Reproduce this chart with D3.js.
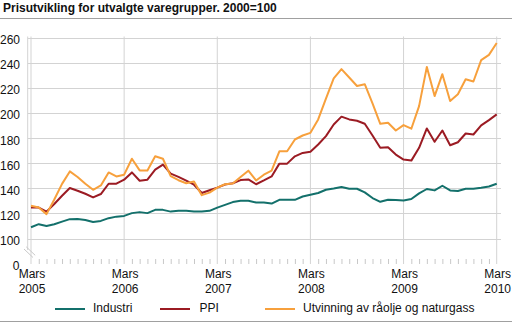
<!DOCTYPE html>
<html><head><meta charset="utf-8">
<script src="https://cdn.jsdelivr.net/npm/d3@7"></script>
<style>
body{margin:0;background:#fff;}
svg{display:block;font-family:"Liberation Sans",Arial,sans-serif;}
</style></head>
<body><svg id="c" width="512" height="323"></svg>
<script>
const title = "Prisutvikling for utvalgte varegrupper. 2000=100";
const yearLabels = ["2005","2006","2007","2008","2009","2010"];
const monthLabel = "Mars";
const yTicks = [100,120,140,160,180,200,220,240,260];
const seriesNames = ["Industri","PPI","Utvinning av råolje og naturgass"];
const industri = [109,111.4,110,111.4,113.4,115.4,115.6,114.8,113.2,114,116.2,117.4,118,120.2,121,120.2,122.8,122.8,121.4,122,122,121.4,121.4,122,124.6,126.8,129,130,130,128.6,128.6,127.8,130.8,130.8,130.8,133.4,134.8,136.2,138.8,139.8,141,139.6,139.6,136.7,132.2,129.2,130.8,130.6,130.3,131.4,135.9,139.4,138.3,142,138.3,137.8,139.6,139.6,140.4,141.4,143.6];
const ppi = [124.6,124.6,121.4,127.5,134,140.2,138,135.6,132.7,135.4,143.6,143.6,146.8,152.6,146,146.8,154.8,158.8,151.6,149,146,142.8,136.2,138.4,140.5,143,144,146.5,147,143.2,146.2,149.4,159.6,159.6,165.4,168.1,169,174.8,181.5,190.8,197,194.8,193.7,191.3,182,172.2,172.6,166.8,162.8,162,172.2,187.6,177,186,174.2,176.6,183.6,182.8,190,194.2,198.8];
const utvinning = [126,124.6,119.4,131,143.5,153.4,149,143.6,138.8,142.2,152.6,149.4,150.8,163.5,154.2,154.2,165.5,163.5,149.6,146.4,144,145.4,134.5,136.5,140.5,143.2,143.8,149,154,146.2,150.8,154,169.4,169.4,178.8,182,184.1,194.8,211.4,227.4,234.8,228.2,221.4,222.8,207.6,191.3,192.2,186,190.3,187.4,205.4,236.6,213.4,230.8,209.4,214.8,226.8,225,242,246.2,255.6];
const colors = ["#13706b","#9b1b23","#f7a03c"];

const svg = d3.select("#c");
const nMonths = industri.length;
const x = d3.scaleLinear().domain([0, nMonths-1]).range([31, 496.7]);
const y = d3.scaleLinear().domain([100, 260]).range([238.5, 37.5]);
const axisX = 27.7, bottomY = 264, gridRight = 501;

// title
svg.append("text").attr("x",3).attr("y",12).attr("font-size",12).attr("font-weight","bold").attr("fill","#111").text(title);
svg.append("line").attr("x1",0).attr("x2",512).attr("y1",18.5).attr("y2",18.5).attr("stroke","#a0a0a0").attr("stroke-width",1);
svg.append("line").attr("x1",0).attr("x2",512).attr("y1",321.5).attr("y2",321.5).attr("stroke","#a0a0a0").attr("stroke-width",1);

// horizontal grid
svg.append("g").selectAll("line").data(yTicks).join("line")
  .attr("x1",axisX).attr("x2",gridRight).attr("y1",d=>Math.round(y(d))+0.5).attr("y2",d=>Math.round(y(d))+0.5)
  .attr("stroke","#d3d3d3").attr("stroke-width",1);
// vertical year grid
const yearIdx = yearLabels.map((d,i)=>i*12);
svg.append("g").selectAll("line").data(yearIdx).join("line")
  .attr("x1",d=>x(d)).attr("x2",d=>x(d)).attr("y1",y(260)-1).attr("y2",bottomY)
  .attr("stroke","#d3d3d3").attr("stroke-width",1);
// y axis line
svg.append("line").attr("x1",axisX).attr("x2",axisX).attr("y1",y(260)-1).attr("y2",250).attr("stroke","#d3d3d3").attr("stroke-width",1);
// break marks
[0,2.2].forEach(o=>{
  svg.append("line").attr("x1",24+o).attr("y1",249-o).attr("x2",33+o).attr("y2",257.5-o).attr("stroke","#c8c8c8").attr("stroke-width",1);
});

// x axis month ticks via d3 axis
const xAxis = d3.axisBottom(x).tickValues(d3.range(nMonths).filter(i=>i%12!==0)).tickSize(5).tickFormat("");
const gx = svg.append("g").attr("transform",`translate(0,${bottomY-5})`).call(xAxis);
gx.select(".domain").remove();
gx.selectAll(".tick line").attr("stroke","#c8c8c8");

// y labels
const yAxis = d3.axisLeft(y).tickValues(yTicks).tickSize(0).tickPadding(0);
const gy = svg.append("g").attr("transform",`translate(20,0)`).call(yAxis);
gy.select(".domain").remove();
gy.selectAll(".tick text").attr("font-size",12).attr("font-family","Liberation Sans, Arial, sans-serif").attr("fill","#111").attr("dy","0.5em");
svg.append("text").attr("x",19.5).attr("y",270).attr("text-anchor","end").attr("font-size",12).attr("fill","#111").text("0");

// x labels
const xl = svg.append("g").selectAll("text").data(yearLabels).join("text")
  .attr("text-anchor","middle").attr("font-size",12).attr("fill","#111");
xl.append("tspan").attr("x",(d,i)=>x(i*12)+1).attr("y",278.3).text(monthLabel);
xl.append("tspan").attr("x",(d,i)=>x(i*12)+1).attr("y",292.5).text(d=>d);

// lines
const line = d3.line().x((d,i)=>x(i)).y(d=>y(d));
[industri, ppi, utvinning].forEach((s,k)=>{
  svg.append("path").datum(s).attr("d",line).attr("fill","none").attr("stroke",colors[k]).attr("stroke-width",2).attr("stroke-linejoin","round");
});

// legend
const leg = [{x:55,tx:93},{x:160,tx:199.5},{x:265,tx:303}];
leg.forEach((l,k)=>{
  svg.append("line").attr("x1",l.x).attr("x2",l.x+30).attr("y1",309).attr("y2",309).attr("stroke",colors[k]).attr("stroke-width",2);
  svg.append("text").attr("x",l.tx).attr("y",311.5).attr("font-size",12).attr("fill","#111").text(seriesNames[k]);
});
</script></body></html>
